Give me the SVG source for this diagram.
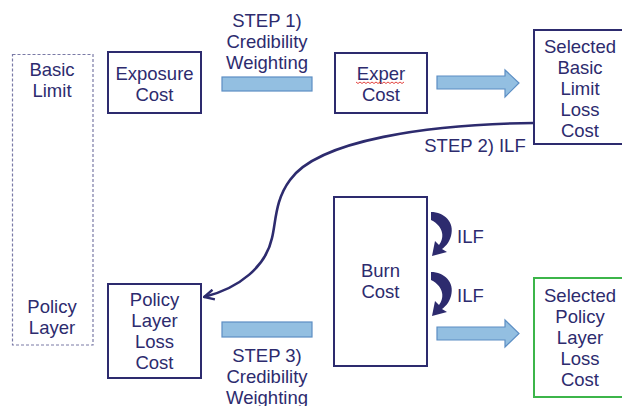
<svg xmlns="http://www.w3.org/2000/svg" width="622" height="406" viewBox="0 0 622 406">
<defs>
<style>
text{font-family:"Liberation Sans",Arial,sans-serif;font-size:18.5px;fill:#2d2b6e;text-anchor:middle}
.box{fill:#fff;stroke:#2d2b6e;stroke-width:2}
.bar{fill:#93bfe1;stroke:#5c8ec4;stroke-width:1.2}
.lbl{text-anchor:start}
</style>
<marker id="chev" viewBox="0 0 12 12" refX="11" refY="6" markerWidth="12" markerHeight="12" markerUnits="userSpaceOnUse" orient="auto">
<path d="M1,1 L11,6 L1,11" fill="none" stroke="#2d2b6e" stroke-width="2.4" stroke-linejoin="miter"/>
</marker>
<path id="ilfarrow" d="M431,212 C444,212 455,222 451,236 C449,243 445,247 442,249 L447,252 L432,256 L435,241 L439,245 C444,239 445,227 431,220 Z" fill="#2d2b6e"/>
</defs>
<rect width="622" height="406" fill="#fff"/>

<g id="limits">
<rect x="12.5" y="54.5" width="80.5" height="290.5" fill="#fff" stroke="#7a7aa6" stroke-width="1.2" stroke-dasharray="3,2"/>
<text x="52" y="76">Basic</text>
<text x="52" y="97">Limit</text>
<text x="52" y="313">Policy</text>
<text x="52" y="334">Layer</text>
</g>

<g id="exposure-cost">
<rect class="box" x="108" y="52" width="93" height="61"/>
<text x="154.5" y="80">Exposure</text>
<text x="154.5" y="101">Cost</text>
</g>

<g id="step1">
<text x="267" y="27">STEP 1)</text>
<text x="267" y="48">Credibility</text>
<text x="267" y="69">Weighting</text>
<rect class="bar" x="222" y="77" width="90" height="14"/>
</g>

<g id="exper-cost">
<rect class="box" x="335" y="53" width="92" height="60"/>
<text x="381" y="80">Exper</text>
<path d="M356,82 l2,1.5 l2,-1.5 l2,1.5 l2,-1.5 l2,1.5 l2,-1.5 l2,1.5 l2,-1.5 l2,1.5 l2,-1.5 l2,1.5 l2,-1.5 l2,1.5 l2,-1.5 l2,1.5 l2,-1.5 l2,1.5 l2,-1.5 l2,1.5 l2,-1.5 l2,1.5 l2,-1.5 l2,1.5 l2,-1.5" fill="none" stroke="#e0302a" stroke-width="0.9"/>
<text x="381" y="101">Cost</text>
</g>

<g id="selected-basic">
<rect class="box" x="534" y="30" width="95" height="114"/>
<text x="580" y="53">Selected</text>
<text x="580" y="74">Basic</text>
<text x="580" y="95">Limit</text>
<text x="580" y="116">Loss</text>
<text x="580" y="137">Cost</text>
</g>

<g id="burn-cost">
<rect class="box" x="334" y="197" width="93" height="169"/>
<text x="380.5" y="277">Burn</text>
<text x="380.5" y="298">Cost</text>
</g>

<g id="policy-layer-loss-cost">
<rect class="box" x="108" y="284" width="93" height="94"/>
<text x="154.5" y="306">Policy</text>
<text x="154.5" y="327">Layer</text>
<text x="154.5" y="348">Loss</text>
<text x="154.5" y="369">Cost</text>
</g>

<g id="step3">
<rect class="bar" x="222" y="322" width="90" height="15"/>
<text x="267" y="362">STEP 3)</text>
<text x="267" y="383">Credibility</text>
<text x="267" y="404">Weighting</text>
</g>

<g id="selected-policy">
<rect x="534" y="278" width="95" height="119" fill="#fff" stroke="#3cb54a" stroke-width="2"/>
<text x="580" y="302">Selected</text>
<text x="580" y="323">Policy</text>
<text x="580" y="344">Layer</text>
<text x="580" y="365">Loss</text>
<text x="580" y="386">Cost</text>
</g>

<g id="connectors">
<path class="bar" d="M437,76 H505 V70 L519,83 L505,97 V89 H437 Z"/>
<path class="bar" d="M437,327 H505 V320 L519,333.5 L505,347 V340 H437 Z"/>
<path d="M534,123 C430,124 318,140 290,180 C275,200 276,222 272,238 C266,266 240,288 204,297" fill="none" stroke="#2d2b6e" stroke-width="2.6" marker-end="url(#chev)"/>
<text x="475" y="152">STEP 2) ILF</text>
<use href="#ilfarrow"/>
<use href="#ilfarrow" transform="translate(0,60)"/>
<text class="lbl" x="457" y="243">ILF</text>
<text class="lbl" x="457" y="302">ILF</text>
</g>
</svg>
